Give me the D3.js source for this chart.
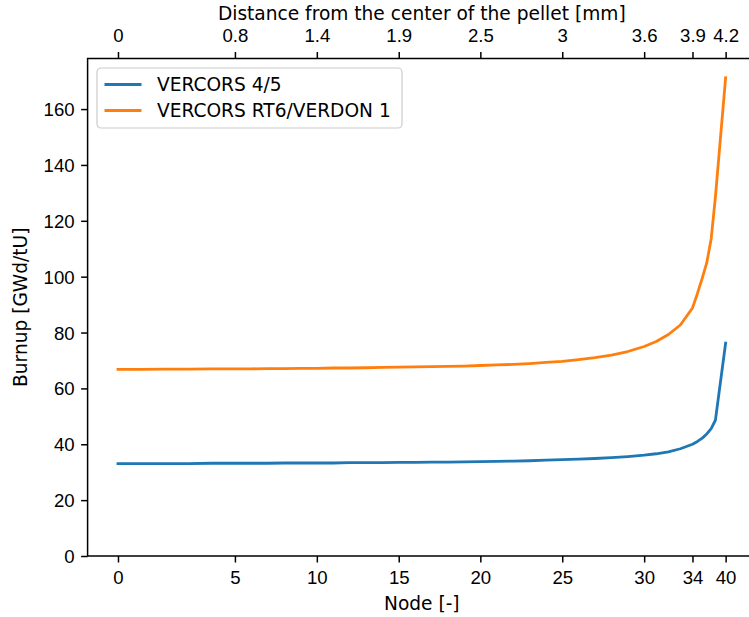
<!DOCTYPE html>
<html>
<head>
<meta charset="utf-8">
<script src="https://cdn.jsdelivr.net/npm/d3@7"></script>
<style>
  body { margin: 0; background: #fff; }
  svg { display: block; font-family: "DejaVu Sans", sans-serif; }
  .tick text { font-size: 18.6px; fill: #000; }
  .tick line { stroke: #000; stroke-width: 1.5px; }
</style>
</head>
<body>
<svg id="chart" width="749" height="617"></svg>
<script>
// radial position of every node [mm]
const nodeRadius = [0.000, 0.160, 0.320, 0.481, 0.641, 0.801, 0.913, 1.025, 1.137, 1.249,
  1.362, 1.474, 1.586, 1.698, 1.810, 1.923, 2.035, 2.147, 2.258, 2.370,
  2.482, 2.594, 2.706, 2.819, 2.931, 3.043, 3.155, 3.267, 3.380, 3.492,
  3.604, 3.687, 3.770, 3.852, 3.935, 3.969, 4.002, 4.033, 4.063, 4.092, 4.162];

const burnupVercors45 = [33.1, 33.1, 33.1, 33.1, 33.2, 33.2, 33.2, 33.2, 33.3, 33.3,
  33.3, 33.3, 33.4, 33.4, 33.4, 33.5, 33.5, 33.6, 33.6, 33.7,
  33.8, 33.9, 34.0, 34.1, 34.3, 34.5, 34.7, 34.9, 35.2, 35.6,
  36.1, 36.6, 37.3, 38.4, 40.0, 41.0, 42.2, 43.7, 45.6, 48.6, 76.2];

const burnupRT6 = [66.8, 66.8, 66.9, 66.9, 67.0, 67.0, 67.0, 67.1, 67.1, 67.2,
  67.2, 67.3, 67.3, 67.4, 67.5, 67.6, 67.7, 67.8, 67.9, 68.0,
  68.2, 68.4, 68.6, 68.9, 69.3, 69.7, 70.3, 71.0, 71.9, 73.2,
  75.0, 76.8, 79.3, 82.7, 88.8, 94.0, 99.5, 105.0, 113.5, 128.5, 171.2];

const seriesNames = ['VERCORS 4/5', 'VERCORS RT6/VERDON 1'];
const seriesColors = ['#1f77b4', '#ff7f0e'];

const bottomTickNodes = [0, 5, 10, 15, 20, 25, 30, 34, 40];
const topTickLabels = ['0', '0.8', '1.4', '1.9', '2.5', '3', '3.6', '3.9', '4.2'];
const yTicks = [0, 20, 40, 60, 80, 100, 120, 140, 160];

const svg = d3.select('#chart');
const plotL = 87.6, plotT = 58.5, plotB = 556, plotR = 756;

const rMax = d3.max(nodeRadius);
const x = d3.scaleLinear().domain([-0.05 * rMax, 1.05 * rMax]).range([plotL, plotR]);
const yMax = d3.max(burnupRT6);
const y = d3.scaleLinear().domain([0, yMax + 0.05 * (yMax - d3.min(burnupVercors45))]).range([plotB, plotT]);

const tickPos = bottomTickNodes.map(n => nodeRadius[n]);

// lines
const series = [burnupVercors45, burnupRT6];
const line = d3.line().x((d, i) => x(nodeRadius[i])).y(d => y(d));
series.forEach((s, k) => {
  svg.append('path').datum(s)
    .attr('fill', 'none').attr('stroke', seriesColors[k])
    .attr('stroke-width', 2.8).attr('stroke-linejoin', 'round').attr('stroke-linecap', 'square')
    .attr('d', line);
});

// axes
const gBottom = svg.append('g').attr('transform', `translate(0,${plotB})`)
  .call(d3.axisBottom(x).tickValues(tickPos).tickSize(6.5).tickPadding(6.5)
    .tickFormat((d, i) => bottomTickNodes[i]));
const gTop = svg.append('g').attr('transform', `translate(0,${plotT})`)
  .call(d3.axisTop(x).tickValues(tickPos).tickSize(6.5).tickPadding(6.5)
    .tickFormat((d, i) => topTickLabels[i]));
const gLeft = svg.append('g').attr('transform', `translate(${plotL},0)`)
  .call(d3.axisLeft(y).tickValues(yTicks).tickSize(6.5).tickPadding(6.5));
[gBottom, gTop, gLeft].forEach(g => g.select('.domain').remove());
gBottom.selectAll('.tick text').attr('dy', '0.78em');
gTop.selectAll('.tick text').attr('dy', '-0.2em');
gLeft.selectAll('.tick text').attr('dy', '0.35em');

// spines
svg.append('rect').attr('x', plotL).attr('y', plotT)
  .attr('width', plotR - plotL).attr('height', plotB - plotT)
  .attr('fill', 'none').attr('stroke', '#000').attr('stroke-width', 1.5);

// axis labels
svg.append('text').attr('x', (plotL + plotR) / 2).attr('y', 20).attr('text-anchor', 'middle')
  .attr('font-size', 18.6).text('Distance from the center of the pellet [mm]');
svg.append('text').attr('x', (plotL + plotR) / 2).attr('y', 610).attr('text-anchor', 'middle')
  .attr('font-size', 18.6).text('Node [-]');
svg.append('text').attr('transform', `translate(27,${(plotT + plotB) / 2}) rotate(-90)`)
  .attr('text-anchor', 'middle').attr('font-size', 18.6).text('Burnup [GWd/tU]');

// legend
const lg = svg.append('g').attr('transform', 'translate(97,68)');
lg.append('rect').attr('width', 305).attr('height', 60).attr('rx', 4)
  .attr('fill', '#fff').attr('fill-opacity', 0.8).attr('stroke', '#ccc').attr('stroke-width', 1.2);
seriesNames.forEach((name, k) => {
  const cy = 16.5 + k * 26;
  lg.append('line').attr('x1', 7.5).attr('x2', 44.5).attr('y1', cy).attr('y2', cy)
    .attr('stroke', seriesColors[k]).attr('stroke-width', 2.8);
  lg.append('text').attr('x', 60).attr('y', cy).attr('dy', '0.35em')
    .attr('font-size', 18.6).text(name);
});
</script>
</body>
</html>
